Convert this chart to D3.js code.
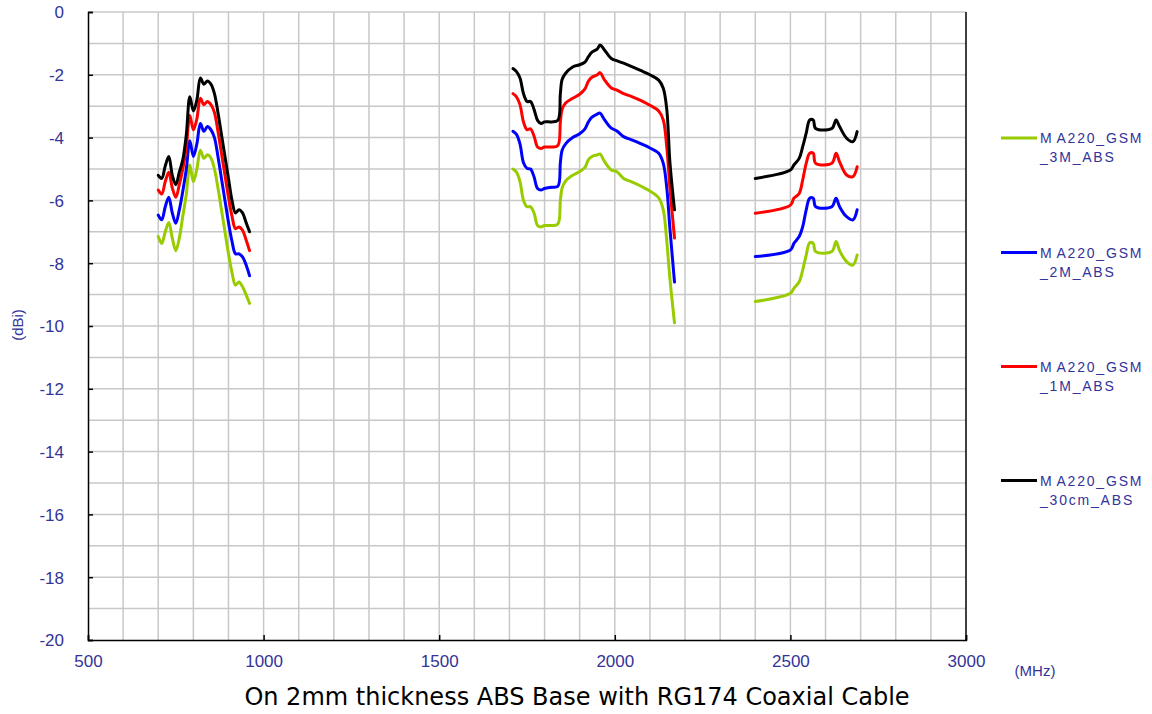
<!DOCTYPE html>
<html><head><meta charset="utf-8">
<script src="https://cdn.jsdelivr.net/npm/d3@7"></script>
<style>
html,body{margin:0;padding:0;background:#fff;}
svg{display:block;}
</style></head>
<body>
<svg id="chart" width="1152" height="714"></svg>
<script>
// ---------- DATA ----------
const freqLow  = [700,710,720,730,740,750,760,770,780,790,800,810,820,830,840,850,860,870,880,890,900,910,920,930,940,950,960];
const freqMid  = [1710,1720,1730,1740,1750,1760,1770,1780,1790,1800,1820,1838,1845,1850,1860,1880,1900,1915,1925,1935,1950,1958,1970,1990,2005,2025,2050,2075,2100,2125,2138,2148,2157,2170];
const freqHigh = [2400,2500,2510,2525,2535,2545,2555,2565,2572,2618,2630,2640,2660,2678,2690];

const cm30Low  = [-5.2,-5.3,-4.9,-4.6,-5.2,-5.5,-5.1,-4.7,-3.9,-2.7,-3.15,-2.8,-2.1,-2.3,-2.2,-2.3,-2.6,-3.2,-3.9,-4.6,-5.3,-6.0,-6.4,-6.3,-6.4,-6.7,-7.0];
const m1Low    = [-5.67,-5.8,-5.4,-5.1,-5.6,-5.9,-5.5,-5.0,-4.3,-3.3,-3.75,-3.4,-2.75,-2.95,-2.85,-2.95,-3.2,-3.8,-4.5,-5.2,-5.9,-6.5,-6.9,-6.85,-6.95,-7.25,-7.6];
const m2Low    = [-6.47,-6.62,-6.2,-5.9,-6.4,-6.73,-6.3,-5.7,-5.0,-4.1,-4.6,-4.2,-3.55,-3.8,-3.65,-3.75,-4.0,-4.6,-5.3,-6.0,-6.7,-7.3,-7.7,-7.7,-7.8,-8.05,-8.4];
const m3Low    = [-7.15,-7.37,-7.0,-6.7,-7.2,-7.6,-7.2,-6.5,-5.8,-4.87,-5.4,-5.0,-4.4,-4.66,-4.55,-4.65,-5.0,-5.6,-6.3,-7.0,-7.7,-8.3,-8.7,-8.6,-8.75,-9.0,-9.28];

const cm30Mid  = [-1.8,-1.9,-2.1,-2.6,-2.85,-2.85,-3.1,-3.45,-3.55,-3.5,-3.5,-3.45,-2.6,-2.15,-1.95,-1.75,-1.68,-1.6,-1.42,-1.28,-1.18,-1.05,-1.2,-1.48,-1.55,-1.63,-1.75,-1.87,-2.0,-2.17,-2.43,-3.1,-4.8,-6.3];
const m1Mid    = [-2.6,-2.7,-2.95,-3.5,-3.75,-3.72,-3.95,-4.3,-4.35,-4.3,-4.3,-4.25,-3.5,-3.1,-2.9,-2.75,-2.62,-2.45,-2.2,-2.08,-2.0,-1.93,-2.15,-2.42,-2.48,-2.6,-2.7,-2.82,-2.97,-3.15,-3.44,-4.3,-5.6,-7.2];
const m2Mid    = [-3.8,-3.9,-4.2,-4.8,-4.98,-5.0,-5.25,-5.62,-5.67,-5.62,-5.58,-5.55,-4.8,-4.4,-4.2,-4.0,-3.88,-3.72,-3.5,-3.35,-3.25,-3.22,-3.42,-3.7,-3.78,-3.97,-4.08,-4.2,-4.33,-4.5,-4.82,-5.6,-6.9,-8.6];
const m3Mid    = [-5.0,-5.1,-5.4,-6.0,-6.2,-6.2,-6.4,-6.8,-6.85,-6.8,-6.8,-6.75,-6.0,-5.6,-5.38,-5.2,-5.08,-4.95,-4.7,-4.6,-4.55,-4.52,-4.75,-5.03,-5.08,-5.3,-5.42,-5.55,-5.7,-5.92,-6.3,-7.3,-8.5,-9.9];

const cm30High = [-5.3,-5.03,-4.87,-4.66,-4.29,-3.86,-3.44,-3.44,-3.71,-3.71,-3.44,-3.65,-4.02,-4.13,-3.81];
const m1High   = [-6.41,-6.15,-5.93,-5.78,-5.35,-4.82,-4.5,-4.5,-4.82,-4.82,-4.5,-4.77,-5.19,-5.24,-4.93];
const m2High   = [-7.79,-7.58,-7.37,-7.15,-6.84,-6.3,-5.93,-5.93,-6.2,-6.2,-5.93,-6.2,-6.52,-6.62,-6.3];
const m3High   = [-9.22,-8.96,-8.8,-8.59,-8.22,-7.74,-7.35,-7.37,-7.63,-7.63,-7.31,-7.6,-7.95,-8.06,-7.74];

const seriesNames  = ["MA220_GSM_3M_ABS","MA220_GSM_2M_ABS","MA220_GSM_1M_ABS","MA220_GSM_30cm_ABS"];
const legendLine2  = ["_3M_ABS","_2M_ABS","_1M_ABS","_30cm_ABS"];
const seriesColors = ["#99cc00","#0000ff","#ff0000","#000000"];
const xTicks = [500,1000,1500,2000,2500,3000];
const yTicks = [0,-2,-4,-6,-8,-10,-12,-14,-16,-18,-20];
const xTitle = "(MHz)";
const yTitle = "(dBi)";
const caption = "On 2mm thickness ABS Base with RG174 Coaxial Cable";

const seriesBands = [
  [m3Low, m3Mid, m3High],
  [m2Low, m2Mid, m2High],
  [m1Low, m1Mid, m1High],
  [cm30Low, cm30Mid, cm30High]
];
const bandFreqs = [freqLow, freqMid, freqHigh];

// ---------- LAYOUT ----------
const svg = d3.select("#chart");
const L = 88, R = 966, T = 12, B = 640;
const x = d3.scaleLinear().domain([500,3000]).range([L,R]);
const y = d3.scaleLinear().domain([-20,0]).range([B,T]);
const labelColor = "#333399";
const tickFont = "'Liberation Sans', Arial, sans-serif";

// grid
const grid = svg.append("g");
grid.selectAll("line.v").data(d3.range(600,3000,100)).join("line")
  .attr("x1",d=>x(d)).attr("x2",d=>x(d)).attr("y1",T).attr("y2",B)
  .attr("stroke","#c8c8c8").attr("stroke-width",1.5);
grid.selectAll("line.h").data(d3.range(-19,1,1)).join("line")
  .attr("x1",L).attr("x2",R).attr("y1",d=>y(d)).attr("y2",d=>y(d))
  .attr("stroke","#c8c8c8").attr("stroke-width",1.5);

// axes
const xAxis = d3.axisBottom(x).tickValues(xTicks).tickSize(-5).tickPadding(15).tickFormat(d3.format("d"));
const yAxis = d3.axisLeft(y).tickValues(yTicks).tickSize(-5).tickPadding(24).tickFormat(d=>d);
const gx = svg.append("g").attr("transform",`translate(0,${B})`).call(xAxis);
const gy = svg.append("g").attr("transform",`translate(${L},0)`).call(yAxis);
[gx,gy].forEach(g=>{
  g.select(".domain").attr("stroke","#000").attr("stroke-width",1.5);
  g.selectAll(".tick line").attr("stroke","#000").attr("stroke-width",1.5);
  g.selectAll(".tick text").attr("fill",labelColor).style("font-family",tickFont).style("font-size","17px");
});
gy.selectAll(".tick text").attr("dy","0.35em");
// right border
svg.append("line").attr("x1",R).attr("x2",R).attr("y1",T).attr("y2",B)
  .attr("stroke","#000").attr("stroke-width",1.5);

// lines
const line = d3.line().x(d=>x(d[0])).y(d=>y(d[1])).curve(d3.curveCatmullRom.alpha(0.5));
const gl = svg.append("g");
seriesBands.forEach((bands,i)=>{
  bands.forEach((vals,b)=>{
    const pts = bandFreqs[b].map((f,k)=>[f, vals[k]]);
    gl.append("path").attr("d",line(pts)).attr("fill","none")
      .attr("stroke",seriesColors[i]).attr("stroke-width",3)
      .attr("stroke-linejoin","round").attr("stroke-linecap","round");
  });
});

// legend
const legY = [138,252.5,366.5,480.5];
const lg = svg.append("g");
seriesNames.forEach((n,i)=>{
  lg.append("line").attr("x1",1001).attr("x2",1037).attr("y1",legY[i]).attr("y2",legY[i])
    .attr("stroke",seriesColors[i]).attr("stroke-width",3);
  const t = lg.append("text").attr("x",1040).attr("y",legY[i]+5)
    .attr("fill",labelColor).style("font-family",tickFont).style("font-size","14px")
    .style("letter-spacing","1.8px");
  t.append("tspan").text("M");
  t.append("tspan").attr("dx",3).text("A220_GSM");
  lg.append("text").attr("x",1040).attr("y",legY[i]+24)
    .attr("fill",labelColor).style("font-family",tickFont).style("font-size","14px")
    .style("letter-spacing","1.8px").text(legendLine2[i]);
});

// axis titles
svg.append("text").attr("x",1035).attr("y",676).attr("text-anchor","middle")
  .attr("fill",labelColor).style("font-family",tickFont).style("font-size","15px").text(xTitle);
svg.append("text").attr("transform","translate(23,325) rotate(-90)").attr("text-anchor","middle")
  .attr("fill",labelColor).style("font-family",tickFont).style("font-size","15px").text(yTitle);
svg.append("text").attr("x",577).attr("y",705).attr("text-anchor","middle")
  .attr("fill","#000").style("font-family","'DejaVu Sans', Verdana, sans-serif").style("font-size","24px").text(caption);
</script>
</body></html>
